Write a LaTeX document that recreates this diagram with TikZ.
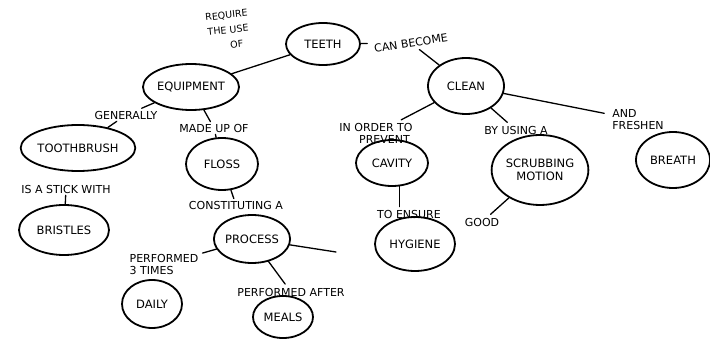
\documentclass[tikz,border=0pt]{standalone}
\usepackage{fontspec}
\setmainfont{DejaVu Sans}
\usetikzlibrary{shapes.geometric}
\begin{document}
\begin{tikzpicture}[x=1pt,y=-1pt,
  concept/.style={ellipse, draw, line width=1.8pt, inner sep=0pt, font=\fontsize{11.5}{13}\selectfont},
  lbl/.style={font=\fontsize{11}{12}\selectfont, align=center, inner sep=2pt},
  link/.style={line width=1.3pt, line cap=round}]
\useasboundingbox[fill=white] (0,0) rectangle (710,339);
% concepts
\node[concept, minimum width=74pt, minimum height=42pt] (teeth) at (323,44) {TEETH};
\node[concept, minimum width=96pt, minimum height=46pt] (equip) at (191,87) {EQUIPMENT};
\node[concept, minimum width=76pt, minimum height=56pt] (clean) at (466,86) {CLEAN};
\node[concept, minimum width=88pt, minimum height=46pt] (tooth) at (78,148) {TOOTHBRUSH};
\node[concept, minimum width=72pt, minimum height=52pt] (floss) at (222,164) {FLOSS};
\node[concept, minimum width=90pt, minimum height=50pt] (brist) at (64,230) {BRISTLES};
\node[concept, minimum width=72pt, minimum height=48pt] (proc) at (252,239) {PROCESS};
\node[concept, minimum width=60pt, minimum height=48pt] (daily) at (152,304) {DAILY};
\node[concept, minimum width=60pt, minimum height=42pt] (meals) at (283,317) {MEALS};
\node[concept, minimum width=72pt, minimum height=46pt] (cavity) at (392,163) {CAVITY};
\node[concept, minimum width=92pt, minimum height=70pt, align=center] (scrub) at (540,170) {SCRUBBING\\MOTION};
\node[concept, minimum width=74pt, minimum height=56pt] (breath) at (673,160) {BREATH};
\node[concept, minimum width=80pt, minimum height=54pt] (hyg) at (415,244) {HYGIENE};
% labels
\node[lbl, rotate=6, font=\fontsize{9.5}{15}\selectfont] (lReq) at (228,30) {REQUIRE\\THE USE\\\hspace*{1.5em}OF};
\node[lbl, rotate=9] (lCan) at (411,43) {CAN BECOME};
\node[lbl, align=left] (lOrder) at (376,133) {IN ORDER TO\\\hspace*{1.8em}PREVENT};
\node[lbl] (lBy) at (516,130) {BY USING A};
\node[lbl, align=left] (lAnd) at (638,120) {AND\\FRESHEN};
\node[lbl] (lGen) at (126,115) {GENERALLY};
\node[lbl] (lMade) at (214,128) {MADE UP OF};
\node[lbl] (lStick) at (66,189) {IS A STICK WITH};
\node[lbl] (lConst) at (236,205) {CONSTITUTING A};
\node[lbl, align=left] (lPerf) at (164,264) {PERFORMED\\3 TIMES};
\node[lbl] (lAfter) at (291,292) {PERFORMED AFTER};
\node[lbl] (lEnsure) at (409,214) {TO ENSURE};
\node[lbl] (lGood) at (482,222) {GOOD};
\coordinate (procEnd) at (336,252);
% connectors
\draw[link] (equip) -- (teeth);
\draw[link, shorten >=4pt] (teeth) -- (lCan);
\draw[link, shorten <=2pt] (lCan) -- (clean);
\draw[link, shorten >=2pt] (clean) -- (lOrder);
\draw[link, shorten >=2pt] (clean) -- (lBy);
\draw[link, shorten >=6pt] (clean) -- (lAnd);
\draw[link, shorten >=1pt] (equip) -- (lGen);
\draw[link] (lGen) -- (tooth);
\draw[link] (equip) -- (lMade);
\draw[link] (lMade) -- (floss);
\draw[link] (lStick) -- (brist);
\draw[link] (floss) -- (lConst);
\draw[link] (proc) -- (procEnd);
\draw[link, shorten >=2pt] (proc) -- (lPerf);
\draw[link, shorten >=2pt] (proc) -- (lAfter);
\draw[link, shorten >=1pt] (cavity.-72) -- (cavity.-72 |- lEnsure.north);
\draw[link, shorten >=2pt] (scrub) -- (lGood);
\end{tikzpicture}
\end{document}
